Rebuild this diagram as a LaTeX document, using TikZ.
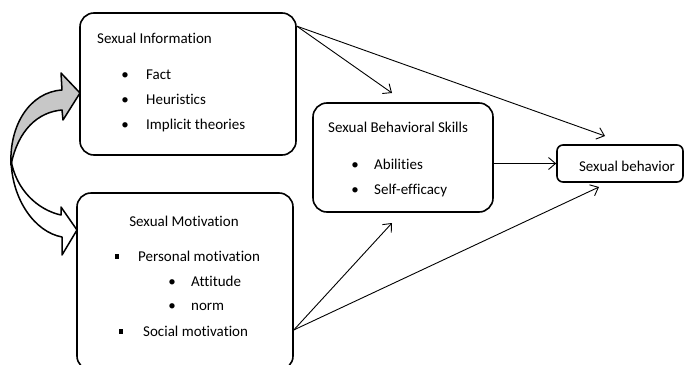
\documentclass[tikz,border=0pt]{standalone}
\usepackage{fontspec}
\setmainfont{Carlito}[Ligatures=NoCommon]
\usetikzlibrary{arrows.meta}
\tikzset{
    modelbox/.style={draw, line width=1.6pt, rounded corners=14pt, inner sep=0pt},
    itemtext/.style={anchor=base west, inner sep=0pt, font=\fontsize{15}{17}\selectfont},
    titletext/.style={anchor=base, inner sep=0pt, font=\fontsize{15}{17}\selectfont},
    dotmark/.style={anchor=base, inner sep=0pt, font=\fontsize{15}{17}\selectfont},
    pathway/.style={-{Straight Barb[length=7pt,width=12pt]}, line width=0.9pt},
    swoop/.style={line width=1.5pt, line join=round}
}
\newcommand\sqmark{\rule[2.5pt]{4.5pt}{4.5pt}}
\begin{document}
\begin{tikzpicture}[x=1pt, y=-1pt]
        \useasboundingbox (0,0) rectangle (684,364);

        % boxes
        \node[modelbox, minimum width=216pt, minimum height=142pt] (info) at (188,84) {};
        \node[modelbox, minimum width=216pt, minimum height=177pt] (motiv) at (185,281.5) {};
        \node[modelbox, minimum width=180pt, minimum height=109pt] (skills) at (403,157.5) {};
        \node[modelbox, rounded corners=6pt, minimum width=126pt, minimum height=37pt] (behav) at (620,163.5) {};

        % sexual information
        \node[itemtext] (infoTitle) at (97,43) {Sexual Information};
        \node[dotmark] (infoDotA) at (125,79) {•};
        \node[itemtext] (infoFact) at (146,79) {Fact};
        \node[dotmark] (infoDotB) at (125,104) {•};
        \node[itemtext] (infoHeur) at (146,104) {Heuristics};
        \node[dotmark] (infoDotC) at (125,129) {•};
        \node[itemtext] (infoTheo) at (146,129) {Implicit theories};

        % sexual motivation
        \node[titletext] (motivTitle) at (184,226) {Sexual Motivation};
        \node[dotmark] (motivSqA) at (117,261) {\sqmark};
        \node[itemtext] (motivPers) at (138,261) {Personal motivation};
        \node[dotmark] (motivDotA) at (172,286) {•};
        \node[itemtext] (motivAtt) at (191,286) {Attitude};
        \node[dotmark] (motivDotB) at (172,310) {•};
        \node[itemtext] (motivNorm) at (191,310) {norm};
        \node[dotmark] (motivSqB) at (121,336) {\sqmark};
        \node[itemtext] (motivSoc) at (143,336) {Social motivation};

        % behavioral skills
        \node[itemtext] (skillsTitle) at (328,132) {Sexual Behavioral Skills};
        \node[dotmark] (skillsDotA) at (355,169) {•};
        \node[itemtext] (skillsAbil) at (374,169) {Abilities};
        \node[dotmark] (skillsDotB) at (355,194) {•};
        \node[itemtext] (skillsEff) at (374,194) {Self-efficacy};

        \node[titletext] (behavText) at (627,171) {Sexual behavior};

        % arrow ends
        \coordinate (skillsTop) at (392,93);
        \coordinate (skillsBot) at (392,223);
        \coordinate (behavTop) at (605,136);
        \coordinate (behavBot) at (599,187);

        \draw[pathway] (info.28.6) -- (skillsTop);
        \draw[pathway] (info.28.6) -- (behavTop);
        \draw[pathway] (motiv.-24) -- (skillsBot);
        \draw[pathway] (motiv.-24) -- (behavBot);
        \draw[pathway] (skills.east |- behav.west) -- (behav.west);

        % curved block arrows
        \draw[swoop, fill=black!22] (62,90) -- (61,73) -- (80,93) -- (63,120) -- (62,110)
            .. controls (38,112) and (18,130) .. (11,165)
            .. controls (9,125) and (30,92) .. (62,90) -- cycle;
        \draw[swoop, fill=white] (11,160) .. controls (12,200) and (35,232) .. (62,237)
            -- (62,255) -- (77,230) -- (61,207) -- (61,215)
            .. controls (38,210) and (16,190) .. (11,160) -- cycle;
    \end{tikzpicture}
\end{document}
